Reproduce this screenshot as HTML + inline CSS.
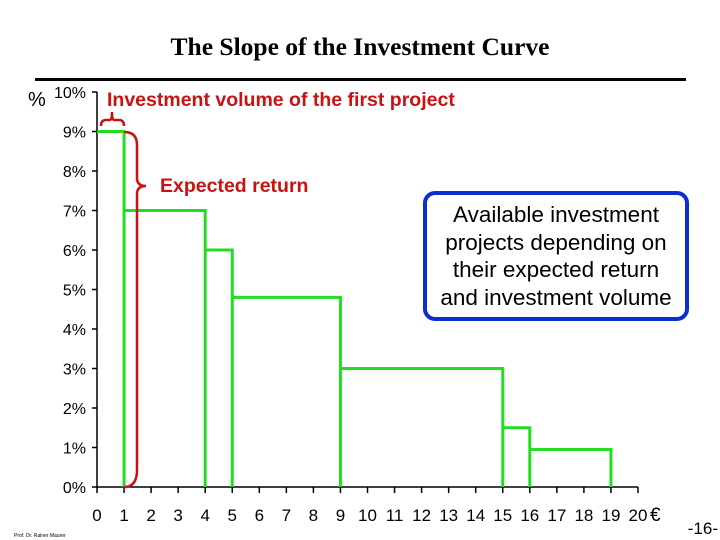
<!DOCTYPE html>
<html><head><meta charset="utf-8"><style>
body{margin:0;background:#fff;width:720px;height:540px;overflow:hidden}
svg{display:block}
text{font-family:"Liberation Sans",sans-serif}
</style></head><body>
<svg width="720" height="540">
<text x="360" y="55" text-anchor="middle" style="font-family:'Liberation Serif',serif;font-weight:bold;font-size:25.5px">The Slope of the Investment Curve</text>
<line x1="35" y1="79.5" x2="686" y2="79.5" stroke="#000" stroke-width="3"/>
<text x="28" y="106" font-size="20">%</text>
<g id="axes"></g>
<g id="steps"></g>
<path d="M101,126 Q101,120 106,120 L110,120 Q112,120 112,112 Q112,120 114,120 L119,120 Q124,120 124,126" fill="none" stroke="#cc1111" stroke-width="2.5"/>
<path d="M124,132 Q137,132 137,145 L137,178 Q137,186 146,186 Q137,186 137,194 L137,470 Q137,487 124,487" fill="none" stroke="#cc1111" stroke-width="2.5"/>
<text x="107" y="106" font-size="19.5" font-weight="bold" fill="#cc1111">Investment volume of the first project</text>
<text x="160" y="192" font-size="19.5" font-weight="bold" fill="#cc1111">Expected return</text>
<rect x="425" y="193" width="262" height="126" rx="10" fill="#fff" stroke="#0a2ed0" stroke-width="4"/>
<g font-size="22.5" text-anchor="middle">
<text x="556" y="222">Available investment</text>
<text x="556" y="250">projects depending on</text>
<text x="556" y="277">their expected return</text>
<text x="556" y="305">and investment volume</text>
</g>
<text x="14" y="537" font-size="5">Prof. Dr. Rainer Maurer</text>
<text x="718" y="534" font-size="17" text-anchor="end">-16-</text>
</svg>
<script>
const yTicks=[0,1,2,3,4,5,6,7,8,9,10];
const xTicks=[0,1,2,3,4,5,6,7,8,9,10,11,12,13,14,15,16,17,18,19,20];
const volumeEnds=[1,4,5,9,15,16,19];
const returns=[9,7,6,4.8,3,1.5,0.95];
const NS="http://www.w3.org/2000/svg";
const X=v=>97+v*27.05, Y=v=>487-v*39.5;
const axes=document.getElementById('axes'), steps=document.getElementById('steps');
function mk(p,tag,a){const e=document.createElementNS(NS,tag);for(const k in a)e.setAttribute(k,a[k]);p.appendChild(e);return e;}
let l=mk(axes,'line',{x1:X(0),y1:Y(10),x2:X(0),y2:Y(0),stroke:'#000','stroke-width':1.5});


l=mk(axes,'line',{x1:X(0),y1:Y(0),x2:X(20),y2:Y(0),stroke:'#000','stroke-width':1.5});


yTicks.forEach(t=>{
 mk(axes,'line',{x1:X(0)-5,y1:Y(t),x2:X(0),y2:Y(t),stroke:'#000','stroke-width':1.5});
 const tx=mk(axes,'text',{x:X(0)-11,y:Y(t)+6,'font-size':16,'text-anchor':'end'});
 tx.textContent=t+'%';
 
 
});
xTicks.forEach(t=>{
 mk(axes,'line',{x1:X(t),y1:Y(0),x2:X(t),y2:Y(0)+6,stroke:'#000','stroke-width':1.5});
 const tx=mk(axes,'text',{x:X(t),y:521,'font-size':17,'text-anchor':'middle'});
 tx.textContent=t;
 
 
});
const eu=mk(axes,'text',{x:X(20)+12,y:521,'font-size':19});
eu.textContent='€';


let prev=0;
volumeEnds.forEach((e,i)=>{
 const r=returns[i];
 const p=mk(steps,'path',{d:`M${X(prev)},${Y(r)} L${X(e)},${Y(r)} L${X(e)},${Y(0)}`,fill:'none',stroke:'#22dd22','stroke-width':3});
 
 
 prev=e;
});
</script>
</body></html>
